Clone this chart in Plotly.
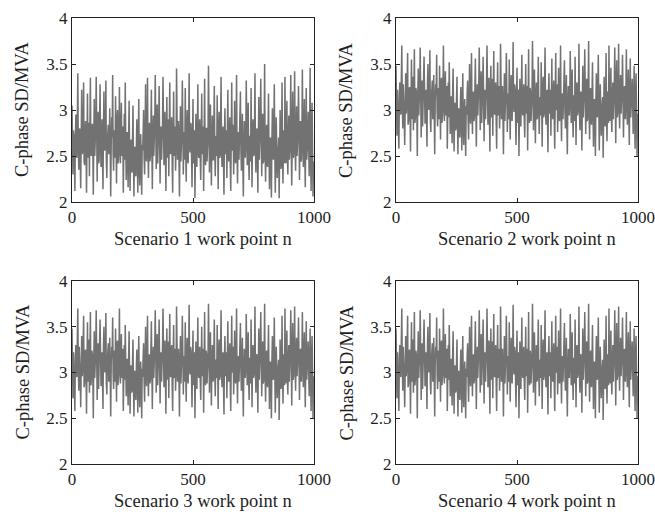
import plotly.graph_objects as go

W, H = 655, 518

# work point index (every 2nd work point, 0..998)
work_points = list(range(0, 1000, 2))

scenario1 = [
    3.05, 2.62, 2.30, 2.78, 2.72, 2.50, 2.12, 2.70, 2.95, 2.56, 2.48, 2.84, 3.40, 2.60, 2.35, 2.74, 2.80, 2.46, 2.15, 2.68,
    3.22, 2.52, 2.55, 2.80, 3.30, 2.44, 2.40, 2.72, 2.88, 2.58, 2.10, 2.66, 3.18, 2.48, 2.62, 2.86, 2.28, 2.64, 3.35, 2.54,
    2.50, 2.76, 2.85, 2.58, 2.08, 2.70, 3.12, 2.50, 2.66, 2.82, 3.36, 2.62, 2.22, 2.74, 2.98, 2.42, 2.45, 2.88, 3.28, 2.60,
    2.38, 2.68, 2.90, 2.46, 2.14, 2.80, 3.20, 2.56, 2.58, 2.74, 3.32, 2.44, 2.26, 2.66, 2.78, 2.84, 2.52, 2.60, 3.02, 2.50,
    2.06, 2.62, 2.92, 2.70, 3.38, 2.52, 2.34, 2.78, 2.70, 2.48, 3.15, 2.64, 2.20, 2.86, 3.00, 2.42, 2.46, 2.76, 3.25, 2.56,
    2.42, 2.74, 3.08, 2.50, 2.64, 2.82, 2.10, 2.58, 2.96, 2.46, 3.30, 2.68, 2.24, 2.60, 2.76, 2.40, 2.16, 2.72, 3.10, 2.52,
    2.12, 2.48, 2.68, 2.36, 2.32, 2.66, 3.05, 2.44, 2.06, 2.58, 2.60, 2.30, 2.28, 2.62, 2.90, 2.46, 2.10, 2.70, 3.12, 2.38,
    2.18, 2.54, 2.74, 2.40, 2.08, 2.62, 2.56, 2.76, 3.00, 2.48, 2.30, 2.66, 3.28, 2.52, 2.44, 2.80, 3.35, 2.58, 2.26, 2.70,
    2.86, 2.44, 2.50, 2.80, 3.22, 2.58, 2.14, 2.68, 2.94, 2.50, 2.62, 2.86, 3.38, 2.48, 2.36, 2.72, 3.06, 2.42, 2.54, 2.82,
    3.26, 2.60, 2.20, 2.74, 2.82, 2.46, 2.58, 2.84, 3.36, 2.56, 2.40, 2.70, 2.98, 2.52, 2.12, 2.76, 3.14, 2.48, 2.66, 2.90,
    2.28, 2.68, 3.30, 2.54, 2.52, 2.78, 2.92, 2.42, 2.10, 2.72, 3.20, 2.50, 2.64, 2.82, 2.34, 2.62, 3.45, 2.66, 2.46, 2.76,
    2.88, 2.50, 2.06, 2.64, 3.04, 2.44, 2.56, 2.80, 3.32, 2.52, 2.30, 2.68, 2.76, 2.46, 3.24, 2.58, 2.22, 2.74, 3.00, 2.48,
    2.42, 2.76, 3.40, 2.60, 2.54, 2.86, 2.84, 2.48, 2.16, 2.70, 3.12, 2.42, 2.62, 2.78, 2.04, 2.56, 2.96, 2.50, 2.38, 2.72,
    3.28, 2.56, 2.48, 2.74, 2.90, 2.46, 2.24, 2.66, 3.18, 2.52, 2.70, 2.82, 2.12, 2.62, 3.34, 2.54, 2.40, 2.80, 2.80, 2.44,
    2.58, 2.72, 3.48, 2.52, 2.32, 2.78, 3.06, 2.60, 2.18, 2.68, 2.94, 2.46, 2.46, 2.76, 3.26, 2.56, 2.28, 2.64, 2.72, 2.50,
    3.16, 2.64, 2.14, 2.70, 2.98, 2.48, 2.50, 2.82, 3.36, 2.54, 2.38, 2.66, 2.82, 2.44, 2.08, 2.74, 3.02, 2.52, 2.60, 2.78,
    2.26, 2.62, 3.22, 2.50, 2.44, 2.76, 2.92, 2.42, 2.12, 2.68, 3.30, 2.58, 2.56, 2.84, 2.30, 2.64, 3.10, 2.48, 2.42, 2.72,
    3.38, 2.54, 2.20, 2.70, 2.76, 2.46, 2.64, 2.78, 3.20, 2.56, 2.34, 2.66, 2.96, 2.42, 2.06, 2.60, 2.88, 2.74, 2.48, 2.64,
    3.32, 2.58, 2.40, 2.76, 3.08, 2.48, 2.24, 2.72, 2.68, 2.44, 3.24, 2.62, 2.16, 2.80, 2.90, 2.50, 2.52, 2.68, 3.40, 2.56,
    2.32, 2.74, 2.80, 2.52, 2.10, 2.66, 3.14, 2.46, 2.58, 2.82, 3.34, 2.60, 2.28, 2.70, 2.96, 2.42, 2.44, 2.76, 3.50, 2.54,
    2.22, 2.62, 2.84, 2.44, 2.38, 2.72, 3.18, 2.56, 2.14, 2.60, 2.70, 2.40, 2.05, 2.66, 3.02, 2.50, 2.46, 2.78, 3.28, 2.58,
    2.10, 2.48, 2.92, 2.58, 2.26, 2.44, 2.62, 2.70, 2.04, 2.52, 3.00, 2.64, 2.36, 2.56, 3.30, 2.46, 2.20, 2.74, 2.78, 2.42,
    3.36, 2.60, 2.42, 2.78, 3.10, 2.50, 2.30, 2.68, 2.94, 2.46, 2.56, 2.82, 3.38, 2.56, 2.18, 2.70, 3.20, 2.48, 2.50, 2.74,
    3.42, 2.58, 2.34, 2.72, 3.04, 2.50, 2.64, 2.80, 3.26, 2.54, 2.24, 2.66, 2.88, 2.44, 2.46, 2.76, 3.44, 2.62, 2.38, 2.70,
    3.12, 2.52, 2.16, 2.74, 3.24, 2.46, 2.56, 2.68, 2.98, 2.56, 2.28, 2.78, 3.46, 2.50, 2.12, 2.64, 3.08, 2.58, 2.06, 2.44,
]

scenario2 = [
    3.48, 3.10, 2.72, 3.22, 3.05, 2.88, 2.58, 3.18, 3.30, 3.02, 2.95, 3.35, 3.70, 3.06, 2.80, 3.28, 3.15, 2.92, 2.62, 3.14,
    3.40, 2.96, 3.02, 3.30, 3.62, 2.84, 2.88, 3.20, 3.25, 2.98, 2.55, 3.12, 3.55, 2.90, 3.10, 3.36, 2.78, 3.04, 3.66, 2.86,
    2.92, 3.24, 3.20, 3.00, 2.50, 3.16, 3.45, 2.94, 3.08, 3.26, 3.68, 3.08, 2.70, 3.18, 3.32, 2.82, 2.98, 3.34, 3.58, 3.04,
    2.85, 3.14, 3.22, 2.92, 2.60, 3.28, 3.50, 3.06, 3.00, 3.20, 3.65, 2.88, 2.76, 3.12, 3.18, 3.32, 2.90, 3.02, 3.38, 2.94,
    2.52, 3.08, 3.28, 3.16, 3.60, 2.98, 2.82, 3.24, 3.12, 2.90, 3.48, 3.10, 2.68, 3.30, 3.35, 2.86, 2.96, 3.22, 3.70, 3.00,
    2.88, 3.20, 3.42, 2.94, 3.05, 3.26, 2.58, 3.04, 3.30, 2.92, 3.52, 3.14, 2.74, 3.06, 3.15, 2.84, 2.64, 3.18, 3.45, 2.96,
    2.55, 2.90, 3.08, 2.78, 2.80, 3.10, 3.36, 2.86, 2.52, 3.02, 3.00, 2.74, 2.70, 3.06, 3.25, 2.88, 2.56, 3.12, 3.40, 2.80,
    2.62, 2.98, 3.12, 2.82, 2.50, 3.04, 2.95, 3.18, 3.32, 2.90, 2.68, 3.08, 3.50, 2.96, 2.85, 3.22, 3.62, 3.00, 2.74, 3.14,
    3.20, 2.88, 2.92, 3.24, 3.56, 3.02, 2.60, 3.10, 3.28, 2.94, 3.05, 3.30, 3.68, 2.92, 2.78, 3.16, 3.42, 2.86, 2.98, 3.26,
    3.58, 3.06, 2.66, 3.18, 3.22, 2.90, 3.02, 3.28, 3.70, 3.00, 2.84, 3.14, 3.35, 2.96, 2.55, 3.20, 3.48, 2.92, 3.10, 3.34,
    2.72, 3.12, 3.64, 2.98, 2.95, 3.22, 3.30, 2.86, 2.58, 3.16, 3.52, 2.94, 3.08, 3.26, 2.80, 3.04, 3.72, 3.10, 2.90, 3.20,
    3.26, 2.94, 2.52, 3.08, 3.40, 2.88, 3.00, 3.24, 3.62, 2.96, 2.76, 3.12, 3.18, 2.90, 3.55, 3.02, 2.68, 3.18, 3.38, 2.92,
    2.88, 3.20, 3.74, 3.04, 2.98, 3.28, 3.24, 2.92, 2.62, 3.14, 3.46, 2.86, 3.06, 3.22, 2.50, 3.00, 3.34, 2.94, 2.82, 3.16,
    3.60, 3.00, 2.94, 3.18, 3.28, 2.90, 2.70, 3.10, 3.50, 2.96, 3.12, 3.26, 2.56, 3.06, 3.66, 2.98, 2.86, 3.24, 3.20, 2.88,
    3.02, 3.16, 3.75, 2.96, 2.78, 3.22, 3.44, 3.04, 2.64, 3.12, 3.30, 2.90, 2.92, 3.20, 3.58, 3.00, 2.74, 3.08, 3.14, 2.94,
    3.52, 3.08, 2.60, 3.14, 3.36, 2.92, 2.96, 3.26, 3.68, 2.98, 2.84, 3.10, 3.22, 2.88, 2.54, 3.18, 3.40, 2.96, 3.04, 3.22,
    2.72, 3.06, 3.56, 2.94, 2.90, 3.20, 3.32, 2.86, 2.58, 3.12, 3.62, 3.02, 3.00, 3.28, 2.76, 3.08, 3.46, 2.92, 2.88, 3.16,
    3.70, 2.98, 2.66, 3.14, 3.18, 2.90, 3.06, 3.22, 3.54, 3.00, 2.80, 3.10, 3.38, 2.86, 2.52, 3.04, 3.26, 3.18, 2.94, 3.08,
    3.64, 3.02, 2.86, 3.20, 3.44, 2.92, 2.70, 3.16, 3.10, 2.88, 3.58, 3.06, 2.62, 3.24, 3.30, 2.94, 2.98, 3.12, 3.72, 3.00,
    2.78, 3.18, 3.20, 2.96, 2.56, 3.10, 3.48, 2.92, 3.02, 3.26, 3.66, 3.04, 2.74, 3.14, 3.34, 2.88, 2.90, 3.20, 3.75, 2.98,
    2.68, 3.08, 3.24, 2.90, 2.84, 3.16, 3.52, 3.00, 2.60, 3.06, 3.12, 2.86, 2.50, 3.12, 3.40, 2.96, 2.92, 3.22, 3.60, 3.02,
    2.56, 2.94, 3.28, 3.04, 2.72, 2.88, 3.06, 3.14, 2.48, 2.98, 3.36, 3.10, 2.82, 3.00, 3.62, 2.92, 2.66, 3.20, 3.18, 2.86,
    3.70, 3.06, 2.88, 3.22, 3.46, 2.94, 2.76, 3.12, 3.30, 2.90, 3.02, 3.26, 3.68, 3.00, 2.64, 3.14, 3.54, 2.92, 2.96, 3.18,
    3.72, 3.04, 2.80, 3.16, 3.38, 2.96, 3.08, 3.24, 3.60, 3.02, 2.70, 3.10, 3.26, 2.94, 2.90, 3.20, 3.66, 3.08, 2.84, 3.12,
    3.44, 2.98, 2.62, 3.14, 3.56, 2.92, 3.00, 3.20, 3.34, 3.06, 2.74, 3.10, 3.48, 2.90, 2.58, 3.18, 3.40, 3.02, 2.50, 2.96,
]

# scenarios 3 and 4 show the same curve as scenario 2
scenario3 = list(scenario2)
scenario4 = list(scenario2)

series = [scenario1, scenario2, scenario3, scenario4]
x_titles = ["Scenario 1 work point n", "Scenario 2 work point n",
            "Scenario 3 work point n", "Scenario 4 work point n"]
y_title = "C-phase SD/MVA"
x_ticks = [0, 500, 1000]
y_ticks = [2, 2.5, 3, 3.5, 4]
y_ticktext = ["2", "2.5", "3", "3.5", "4"]

# plot areas in pixels: (left, right, top, bottom)
boxes = [(72, 314, 18, 202), (396, 638, 18, 202),
         (72, 314, 281, 464), (396, 638, 281, 464)]

FONT = "Liberation Serif, Times New Roman, serif"
LINE_COLOR = "#727272"
TEXT_COLOR = "#1e1e1e"

fig = go.Figure()
annotations = []
for i, (ys, (l, r, t, b)) in enumerate(zip(series, boxes)):
    n = i + 1
    xa = "x" if n == 1 else f"x{n}"
    ya = "y" if n == 1 else f"y{n}"
    fig.add_trace(go.Scatter(x=work_points, y=ys, mode="lines",
                             line=dict(color=LINE_COLOR, width=1.5),
                             xaxis=xa, yaxis=ya, showlegend=False,
                             hoverinfo="skip"))
    axis_common = dict(showline=True, mirror="ticks", linecolor="#222",
                       linewidth=1, ticks="inside", ticklen=4,
                       tickcolor="#222", showgrid=False, zeroline=False,
                       automargin=False,
                       tickfont=dict(family=FONT, size=17, color=TEXT_COLOR))
    fig.layout[f"xaxis{'' if n == 1 else n}"] = dict(
        domain=[l / W, r / W], anchor=ya, range=[0, 1000],
        tickvals=x_ticks, **axis_common)
    fig.layout[f"yaxis{'' if n == 1 else n}"] = dict(
        domain=[1 - b / H, 1 - t / H], anchor=xa, range=[2, 4],
        tickvals=y_ticks, ticktext=y_ticktext, **axis_common)
    annotations.append(dict(text=x_titles[i], x=((l + r) / 2 + 10) / W,
                            y=1 - (b + 37) / H, xref="paper", yref="paper",
                            showarrow=False, xanchor="center", yanchor="middle",
                            font=dict(family=FONT, size=18.5, color=TEXT_COLOR)))
    annotations.append(dict(text=y_title, x=(l - 50) / W, y=1 - (t + b) / 2 / H,
                            xref="paper", yref="paper", showarrow=False,
                            textangle=-90, xanchor="center", yanchor="middle",
                            font=dict(family=FONT, size=18.5, color=TEXT_COLOR)))

fig.update_layout(width=W, height=H, margin=dict(l=0, r=0, t=0, b=0, autoexpand=False),
                  paper_bgcolor="white", plot_bgcolor="white",
                  annotations=annotations)

fig.write_html("out.html")
